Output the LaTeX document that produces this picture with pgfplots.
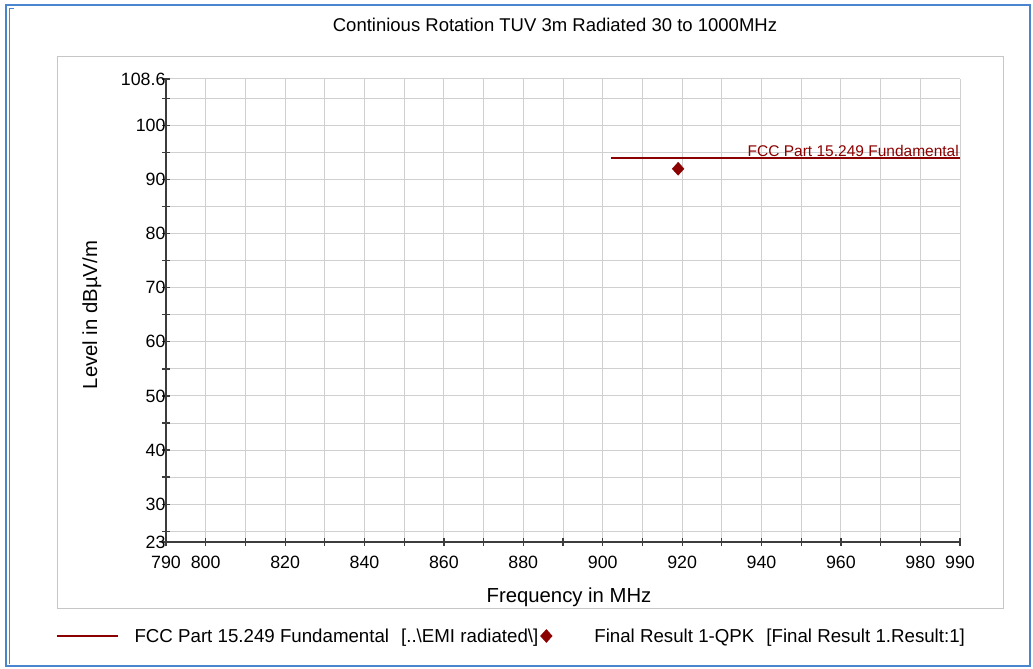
\documentclass[border=0pt]{standalone}
\usepackage{fontspec}
\setmainfont{Liberation Sans}
\usepackage{pgfplots}
\pgfplotsset{compat=1.18}
\definecolor{limred}{HTML}{8B0000}
\definecolor{frameblue}{HTML}{4A86D0}
\definecolor{gridgray}{HTML}{D0D0D0}
\definecolor{axisgray}{HTML}{3C3C3C}
\pgfplotsset{
    limit legend/.style={legend image code/.code={\draw[##1] (0pt,0pt) -- (61pt,0pt); \path[draw=none] (0pt,0pt) -- (76pt,0pt);}},
    result legend/.style={legend image code/.code={\draw[##1] plot coordinates {(6pt,0pt)}; \path[draw=none] (0pt,0pt) -- (52pt,0pt);}},
}
\begin{document}
\begin{tikzpicture}[x=1pt,y=1pt]
\useasboundingbox (-166,-127) rectangle (867,542);
% outer frame and inner panel
\draw[frameblue, line width=2] (-160,-124) rectangle (864,537);
\draw[frameblue, line width=1] (-156,-122) -- (-156,533) -- (-152,533);
\draw[gray!45, line width=1] (-108,-66) rectangle (837,485);
\node[font=\fontsize{18.5}{21}\selectfont] at (389,517) {Continious Rotation TUV 3m Radiated 30 to 1000MHz};
\begin{axis}[
    at={(0,0)}, anchor=south west,
    scale only axis, width=794pt, height=463pt,
    xmin=790, xmax=990, ymin=23, ymax=108.6,
    xtick={790,800,820,840,860,880,900,920,940,960,980,990},
    minor xtick={810,830,850,870,890,910,930,950,970},
    ytick={23,30,40,50,60,70,80,90,100,108.6},
    minor ytick={25,35,45,55,65,75,85,95,105},
    grid=both,
    major grid style={gridgray, line width=1pt},
    minor grid style={gridgray, line width=1pt},
    axis x line*=bottom, axis y line*=left,
    axis line style={axisgray, line width=1.5pt, -},
    tick align=center,
    major tick length=8pt, minor tick length=8pt,
    tick style={axisgray, line width=1.2pt},
    /pgf/number format/assume math mode=true,
    tick label style={font=\fontsize{17.8}{20}\selectfont},
    xticklabel style={yshift=-7pt},
    yticklabel style={xshift=7pt},
    xlabel={Frequency in MHz},
    ylabel={Level in dBµV/m},
    label style={font=\fontsize{20.3}{23}\selectfont},
    xlabel style={at={(axis description cs:0.5076,-0.1188)}, anchor=center},
    ylabel style={at={(axis description cs:-0.0932,0.490)}, anchor=center},
    legend style={at={(axis description cs:-0.1433,-0.203)}, anchor=west,
        draw=none, fill=none, legend columns=2,
        font=\fontsize{18.7}{21}\selectfont},
    legend cell align=left,
    clip=false,
]
\addplot[limred, line width=2.2pt, limit legend]
    coordinates {(902,94) (990,94)};
\addlegendentry{FCC Part 15.249 Fundamental\hspace{12pt}[..\textbackslash EMI radiated\textbackslash]}
\addplot[only marks, mark=diamond*, mark size=6.5pt, color=limred,
    mark options={xscale=1.2}, result legend]
    coordinates {(919,92)};
\addlegendentry{Final Result 1-QPK\hspace{12pt}[Final Result 1.Result:1]}
\node[anchor=south east, text=limred, inner sep=1pt,
    font=\fontsize{15.5}{18}\selectfont] at (axis cs:990,94) {FCC Part 15.249 Fundamental};
\end{axis}
\end{tikzpicture}
\end{document}
